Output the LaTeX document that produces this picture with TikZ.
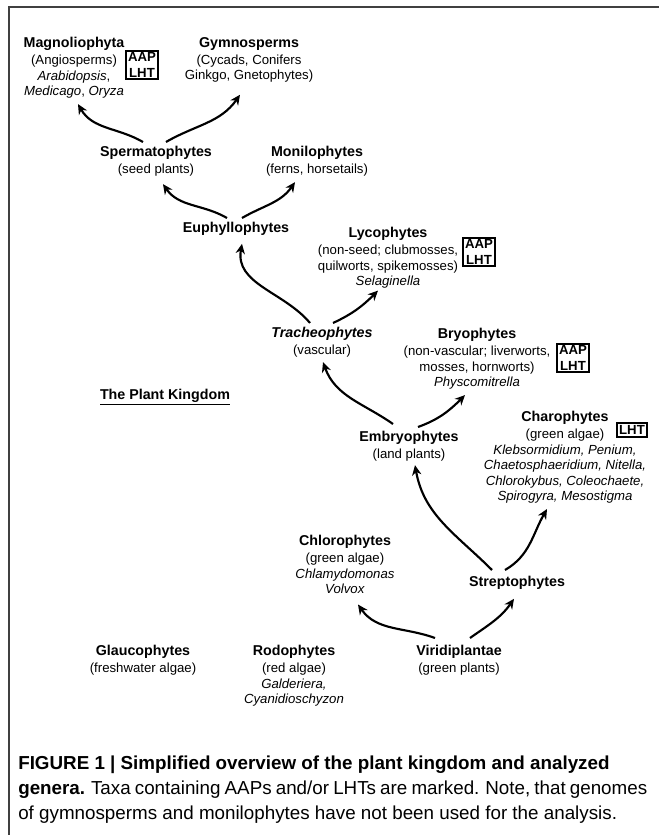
\documentclass[tikz,border=0pt]{standalone}
\usepackage{fontspec}
\setmainfont{Liberation Sans}
\usetikzlibrary{arrows.meta}

\newcommand{\taxname}[1]{{\fontsize{10.7}{11.6}\selectfont\bfseries #1}}
\tikzset{
    taxon/.style={align=center, inner sep=0pt, anchor=north, font=\fontsize{9.9}{11.6}\selectfont},
    marker/.style={draw, line width=1.5pt, inner sep=1.5pt, align=center, font=\fontsize{9.9}{11.6}\selectfont\bfseries},
    branch/.style={->, line width=1.6pt}
}

\begin{document}
\begin{tikzpicture}[x=0.75pt, y=0.75pt, >={Stealth[length=7.5pt,width=7pt]}]
                \useasboundingbox (0,0) rectangle (659,835);
                \draw[line width=1.5pt, black!75] (9,0) -- (9,828) -- (659,828);

                \node[taxon] (magno) at (74,798) {\taxname{Magnoliophyta}\\[1.2pt](Angiosperms)\\\textit{Arabidopsis},\\\textit{Medicago}, \textit{Oryza}};
                \node[taxon] (gymno) at (249,798) {\taxname{Gymnosperms}\\[1.2pt](Cycads, Conifers\\Ginkgo, Gnetophytes)};
                \node[taxon] (sperm) at (156,689) {\taxname{Spermatophytes}\\[1.2pt](seed plants)};
                \node[taxon] (monilo) at (317,689) {\taxname{Monilophytes}\\[1.2pt](ferns, horsetails)};
                \node[taxon] (euphyl) at (236,613) {\taxname{Euphyllophytes}};
                \node[taxon] (lyco) at (388,608) {\taxname{Lycophytes}\\[1.2pt](non-seed; clubmosses,\\quilworts, spikemosses)\\\textit{Selaginella}};
                \node[taxon] (trach) at (322,508) {\taxname{\itshape Tracheophytes}\\[1.2pt](vascular)};
                \node[taxon] (bryo) at (477,507) {\taxname{Bryophytes}\\[1.2pt](non-vascular; liverworts,\\mosses, hornworts)\\\textit{Physcomitrella}};
                \node[taxon] (charo) at (565,424) {\taxname{Charophytes}\\[1.2pt](green algae)\\\textit{Klebsormidium, Penium,}\\\textit{Chaetosphaeridium, Nitella,}\\\textit{Chlorokybus, Coleochaete,}\\\textit{Spirogyra, Mesostigma}};
                \node[taxon] (embryo) at (409,404) {\taxname{Embryophytes}\\[1.2pt](land plants)};
                \node[taxon] (chloro) at (345,300) {\taxname{Chlorophytes}\\[1.2pt](green algae)\\\textit{Chlamydomonas}\\\textit{Volvox}};
                \node[taxon] (strepto) at (517,259) {\taxname{Streptophytes}};
                \node[taxon] (glauco) at (143,190) {\taxname{Glaucophytes}\\[1.2pt](freshwater algae)};
                \node[taxon] (rodo) at (294,190) {\taxname{Rodophytes}\\[1.2pt](red algae)\\\textit{Galderiera,}\\\textit{Cyanidioschyzon}};
                \node[taxon] (virid) at (459,190) {\taxname{Viridiplantae}\\[1.2pt](green plants)};
                \node[inner sep=0pt] (kingdom) at (165,438) {\taxname{\underline{The Plant Kingdom}}};

                \node[marker] (aapmagno) at (142,770) {AAP\\LHT};
                \node[marker] (aaplyco) at (479,583) {AAP\\LHT};
                \node[marker] (aapbryo) at (573,477) {AAP\\LHT};
                \node[marker] (lhtcharo) at (632,405) {LHT};

                \draw[branch] ([shift={(-13,4)}]sperm.north) to[out=150,in=-60] ([shift={(4,-5.5)}]magno.south);
                \draw[branch] ([shift={(10,4)}]sperm.north) to[out=30,in=-125] ([shift={(-9,-12)}]gymno.south);
                \draw[branch] ([shift={(-9,4)}]euphyl.north) to[out=150,in=-55] ([shift={(7,-7.5)}]sperm.south);
                \draw[branch] ([shift={(6,4)}]euphyl.north) to[out=30,in=-125] ([shift={(-22,-5.5)}]monilo.south);
                \draw[branch] ([shift={(-12,4)}]trach.north) to[out=130,in=-100] ([shift={(6,-8)}]euphyl.south);
                \draw[branch] ([shift={(11,4)}]trach.north) to[out=25,in=-135] ([shift={(-10,-2)}]lyco.south);
                \draw[branch] ([shift={(-16,7)}]embryo.north) to[out=145,in=-70] ([shift={(1,-4.5)}]trach.south);
                \draw[branch] ([shift={(9,4)}]embryo.north) to[out=20,in=-135] ([shift={(-12,-5.5)}]bryo.south);
                \draw[branch] ([shift={(-25,6)}]strepto.north) to[out=135,in=-80] ([shift={(6,-3.5)}]embryo.south);
                \draw[branch] ([shift={(-12,6)}]strepto.north) to[out=30,in=-120] ([shift={(-18,-5.5)}]charo.south);
                \draw[branch] ([shift={(-24,7)}]virid.north) to[out=160,in=-55] ([shift={(13,-10.5)}]chloro.south);
                \draw[branch] ([shift={(11,7)}]virid.north) to[out=35,in=-125] ([shift={(-3,-9)}]strepto.south);

                \node[anchor=north west, inner sep=0pt, align=left, font=\fontsize{14.1}{18.75}\selectfont] (caption) at (18,79) {\textbf{FIGURE 1 | Simplified overview of the plant kingdom and analyzed}\\{\spaceskip=0.22em\relax\textbf{genera.} Taxa containing AAPs and/or LHTs are marked. Note, that genomes}\\of gymnosperms and monilophytes have not been used for the analysis.};
            \end{tikzpicture}
\end{document}
